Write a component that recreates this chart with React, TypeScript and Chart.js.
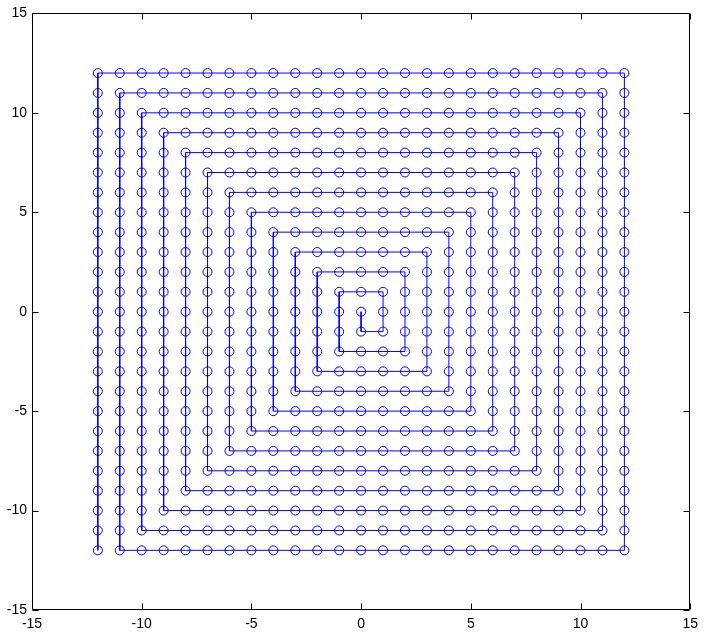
import React, { useEffect, useRef } from "react";
import { Chart, registerables } from "chart.js";

Chart.register(...registerables);

// Axis ticks
const xTickValues = [-15, -10, -5, 0, 5, 10, 15];
const yTickValues = [-15, -10, -5, 0, 5, 10, 15];

// Square spiral points (one per line segment of the path)
const spiralX = [
  0,
  // ring 0
  0,
  1,
  1, 1,
  0, -1,
  // ring 1
  -1, -1, -1,
  0, 1, 2,
  2, 2, 2, 2,
  1, 0, -1, -2,
  // ring 2
  -2, -2, -2, -2, -2,
  -1, 0, 1, 2, 3,
  3, 3, 3, 3, 3, 3,
  2, 1, 0, -1, -2, -3,
  // ring 3
  -3, -3, -3, -3, -3, -3, -3,
  -2, -1, 0, 1, 2, 3, 4,
  4, 4, 4, 4, 4, 4, 4, 4,
  3, 2, 1, 0, -1, -2, -3, -4,
  // ring 4
  -4, -4, -4, -4, -4, -4, -4, -4, -4,
  -3, -2, -1, 0, 1, 2, 3, 4, 5,
  5, 5, 5, 5, 5, 5, 5, 5, 5, 5,
  4, 3, 2, 1, 0, -1, -2, -3, -4, -5,
  // ring 5
  -5, -5, -5, -5, -5, -5, -5, -5, -5, -5, -5,
  -4, -3, -2, -1, 0, 1, 2, 3, 4, 5, 6,
  6, 6, 6, 6, 6, 6, 6, 6, 6, 6, 6, 6,
  5, 4, 3, 2, 1, 0, -1, -2, -3, -4, -5, -6,
  // ring 6
  -6, -6, -6, -6, -6, -6, -6, -6, -6, -6, -6, -6, -6,
  -5, -4, -3, -2, -1, 0, 1, 2, 3, 4, 5, 6, 7,
  7, 7, 7, 7, 7, 7, 7, 7, 7, 7, 7, 7, 7, 7,
  6, 5, 4, 3, 2, 1, 0, -1, -2, -3, -4, -5, -6, -7,
  // ring 7
  -7, -7, -7, -7, -7, -7, -7, -7, -7, -7, -7, -7, -7, -7, -7,
  -6, -5, -4, -3, -2, -1, 0, 1, 2, 3, 4, 5, 6, 7, 8,
  8, 8, 8, 8, 8, 8, 8, 8, 8, 8, 8, 8, 8, 8, 8, 8,
  7, 6, 5, 4, 3, 2, 1, 0, -1, -2, -3, -4, -5, -6, -7, -8,
  // ring 8
  -8, -8, -8, -8, -8, -8, -8, -8, -8, -8, -8, -8, -8, -8, -8, -8, -8,
  -7, -6, -5, -4, -3, -2, -1, 0, 1, 2, 3, 4, 5, 6, 7, 8, 9,
  9, 9, 9, 9, 9, 9, 9, 9, 9, 9, 9, 9, 9, 9, 9, 9, 9, 9,
  8, 7, 6, 5, 4, 3, 2, 1, 0, -1, -2, -3, -4, -5, -6, -7, -8, -9,
  // ring 9
  -9, -9, -9, -9, -9, -9, -9, -9, -9, -9, -9, -9, -9, -9, -9, -9, -9, -9, -9,
  -8, -7, -6, -5, -4, -3, -2, -1, 0, 1, 2, 3, 4, 5, 6, 7, 8, 9, 10,
  10, 10, 10, 10, 10, 10, 10, 10, 10, 10, 10, 10, 10, 10, 10, 10, 10, 10, 10, 10,
  9, 8, 7, 6, 5, 4, 3, 2, 1, 0, -1, -2, -3, -4, -5, -6, -7, -8, -9, -10,
  // ring 10
  -10, -10, -10, -10, -10, -10, -10, -10, -10, -10, -10, -10, -10, -10, -10, -10, -10, -10, -10, -10, -10,
  -9, -8, -7, -6, -5, -4, -3, -2, -1, 0, 1, 2, 3, 4, 5, 6, 7, 8, 9, 10, 11,
  11, 11, 11, 11, 11, 11, 11, 11, 11, 11, 11, 11, 11, 11, 11, 11, 11, 11, 11, 11, 11, 11,
  10, 9, 8, 7, 6, 5, 4, 3, 2, 1, 0, -1, -2, -3, -4, -5, -6, -7, -8, -9, -10, -11,
  // ring 11
  -11, -11, -11, -11, -11, -11, -11, -11, -11, -11, -11, -11, -11, -11, -11, -11, -11, -11, -11, -11, -11, -11, -11,
  -10, -9, -8, -7, -6, -5, -4, -3, -2, -1, 0, 1, 2, 3, 4, 5, 6, 7, 8, 9, 10, 11, 12,
  12, 12, 12, 12, 12, 12, 12, 12, 12, 12, 12, 12, 12, 12, 12, 12, 12, 12, 12, 12, 12, 12, 12, 12,
  11, 10, 9, 8, 7, 6, 5, 4, 3, 2, 1, 0, -1, -2, -3, -4, -5, -6, -7, -8, -9, -10, -11, -12,
  // last run down the left side
  -12, -12, -12, -12, -12, -12, -12, -12, -12, -12, -12, -12, -12, -12, -12, -12, -12, -12, -12, -12, -12, -12, -12, -12,
];

const spiralY = [
  0,
  // ring 0
  -1,
  -1,
  0, 1,
  1, 1,
  // ring 1
  0, -1, -2,
  -2, -2, -2,
  -1, 0, 1, 2,
  2, 2, 2, 2,
  // ring 2
  1, 0, -1, -2, -3,
  -3, -3, -3, -3, -3,
  -2, -1, 0, 1, 2, 3,
  3, 3, 3, 3, 3, 3,
  // ring 3
  2, 1, 0, -1, -2, -3, -4,
  -4, -4, -4, -4, -4, -4, -4,
  -3, -2, -1, 0, 1, 2, 3, 4,
  4, 4, 4, 4, 4, 4, 4, 4,
  // ring 4
  3, 2, 1, 0, -1, -2, -3, -4, -5,
  -5, -5, -5, -5, -5, -5, -5, -5, -5,
  -4, -3, -2, -1, 0, 1, 2, 3, 4, 5,
  5, 5, 5, 5, 5, 5, 5, 5, 5, 5,
  // ring 5
  4, 3, 2, 1, 0, -1, -2, -3, -4, -5, -6,
  -6, -6, -6, -6, -6, -6, -6, -6, -6, -6, -6,
  -5, -4, -3, -2, -1, 0, 1, 2, 3, 4, 5, 6,
  6, 6, 6, 6, 6, 6, 6, 6, 6, 6, 6, 6,
  // ring 6
  5, 4, 3, 2, 1, 0, -1, -2, -3, -4, -5, -6, -7,
  -7, -7, -7, -7, -7, -7, -7, -7, -7, -7, -7, -7, -7,
  -6, -5, -4, -3, -2, -1, 0, 1, 2, 3, 4, 5, 6, 7,
  7, 7, 7, 7, 7, 7, 7, 7, 7, 7, 7, 7, 7, 7,
  // ring 7
  6, 5, 4, 3, 2, 1, 0, -1, -2, -3, -4, -5, -6, -7, -8,
  -8, -8, -8, -8, -8, -8, -8, -8, -8, -8, -8, -8, -8, -8, -8,
  -7, -6, -5, -4, -3, -2, -1, 0, 1, 2, 3, 4, 5, 6, 7, 8,
  8, 8, 8, 8, 8, 8, 8, 8, 8, 8, 8, 8, 8, 8, 8, 8,
  // ring 8
  7, 6, 5, 4, 3, 2, 1, 0, -1, -2, -3, -4, -5, -6, -7, -8, -9,
  -9, -9, -9, -9, -9, -9, -9, -9, -9, -9, -9, -9, -9, -9, -9, -9, -9,
  -8, -7, -6, -5, -4, -3, -2, -1, 0, 1, 2, 3, 4, 5, 6, 7, 8, 9,
  9, 9, 9, 9, 9, 9, 9, 9, 9, 9, 9, 9, 9, 9, 9, 9, 9, 9,
  // ring 9
  8, 7, 6, 5, 4, 3, 2, 1, 0, -1, -2, -3, -4, -5, -6, -7, -8, -9, -10,
  -10, -10, -10, -10, -10, -10, -10, -10, -10, -10, -10, -10, -10, -10, -10, -10, -10, -10, -10,
  -9, -8, -7, -6, -5, -4, -3, -2, -1, 0, 1, 2, 3, 4, 5, 6, 7, 8, 9, 10,
  10, 10, 10, 10, 10, 10, 10, 10, 10, 10, 10, 10, 10, 10, 10, 10, 10, 10, 10, 10,
  // ring 10
  9, 8, 7, 6, 5, 4, 3, 2, 1, 0, -1, -2, -3, -4, -5, -6, -7, -8, -9, -10, -11,
  -11, -11, -11, -11, -11, -11, -11, -11, -11, -11, -11, -11, -11, -11, -11, -11, -11, -11, -11, -11, -11,
  -10, -9, -8, -7, -6, -5, -4, -3, -2, -1, 0, 1, 2, 3, 4, 5, 6, 7, 8, 9, 10, 11,
  11, 11, 11, 11, 11, 11, 11, 11, 11, 11, 11, 11, 11, 11, 11, 11, 11, 11, 11, 11, 11, 11,
  // ring 11
  10, 9, 8, 7, 6, 5, 4, 3, 2, 1, 0, -1, -2, -3, -4, -5, -6, -7, -8, -9, -10, -11, -12,
  -12, -12, -12, -12, -12, -12, -12, -12, -12, -12, -12, -12, -12, -12, -12, -12, -12, -12, -12, -12, -12, -12, -12,
  -11, -10, -9, -8, -7, -6, -5, -4, -3, -2, -1, 0, 1, 2, 3, 4, 5, 6, 7, 8, 9, 10, 11, 12,
  12, 12, 12, 12, 12, 12, 12, 12, 12, 12, 12, 12, 12, 12, 12, 12, 12, 12, 12, 12, 12, 12, 12, 12,
  // last run down the left side
  11, 10, 9, 8, 7, 6, 5, 4, 3, 2, 1, 0, -1, -2, -3, -4, -5, -6, -7, -8, -9, -10, -11, -12,
];

const FONT = "'Liberation Sans', Arial, Helvetica, sans-serif";
const TICK_LEN = 6;

const framePlugin = {
  id: "matlabFrame",
  afterDatasetsDraw(chart: any) {
    const { ctx, chartArea, scales } = chart;
    const L = Math.round(chartArea.left) + 0.5;
    const R = Math.round(chartArea.right) - 0.5;
    const T = Math.round(chartArea.top) + 0.5;
    const B = Math.round(chartArea.bottom) - 0.5;
    ctx.save();
    ctx.strokeStyle = "#000000";
    ctx.lineWidth = 1;
    ctx.beginPath();
    ctx.rect(L, T, R - L, B - T);
    ctx.stroke();
    ctx.beginPath();
    for (const v of xTickValues) {
      const px = Math.round(scales.x.getPixelForValue(v)) + 0.5;
      ctx.moveTo(px, B);
      ctx.lineTo(px, B - TICK_LEN);
      ctx.moveTo(px, T);
      ctx.lineTo(px, T + TICK_LEN);
    }
    for (const v of yTickValues) {
      const py = Math.round(scales.y.getPixelForValue(v)) + 0.5;
      ctx.moveTo(L, py);
      ctx.lineTo(L + TICK_LEN, py);
      ctx.moveTo(R, py);
      ctx.lineTo(R - TICK_LEN, py);
    }
    ctx.stroke();
    ctx.restore();
  },
};

export default function App() {
  const canvasRef = useRef<HTMLCanvasElement | null>(null);

  useEffect(() => {
    document.body.style.margin = "0";
    const canvas = canvasRef.current;
    if (!canvas) return;
    const points = spiralX.map((x, i) => ({ x, y: spiralY[i] }));
    const chart = new Chart(canvas, {
      type: "scatter",
      data: {
        datasets: [
          {
            data: points,
            showLine: true,
            borderColor: "#0000ff",
            borderWidth: 1,
            pointStyle: "circle",
            pointRadius: 4.5,
            pointBorderColor: "#0000ff",
            pointBackgroundColor: "rgba(0,0,0,0)",
            pointBorderWidth: 1,
            tension: 0,
          },
        ],
      },
      options: {
        animation: false,
        responsive: false,
        events: [],
        layout: { padding: { top: 12, right: 8, left: 0, bottom: 0 } },
        plugins: {
          legend: { display: false },
          tooltip: { enabled: false },
        },
        scales: {
          x: {
            type: "linear",
            min: -15,
            max: 15,
            afterBuildTicks: (scale: any) => {
              scale.ticks = xTickValues.map((v) => ({ value: v }));
            },
            afterFit: (scale: any) => {
              scale.height = 24;
            },
            grid: { display: false, drawTicks: false },
            border: { display: false },
            ticks: {
              color: "#000000",
              padding: 6,
              maxRotation: 0,
              font: { family: FONT, size: 14 },
            },
          },
          y: {
            type: "linear",
            min: -15,
            max: 15,
            afterBuildTicks: (scale: any) => {
              scale.ticks = yTickValues.map((v) => ({ value: v }));
            },
            afterFit: (scale: any) => {
              scale.width = 32;
            },
            grid: { display: false, drawTicks: false },
            border: { display: false },
            ticks: {
              color: "#000000",
              padding: 5,
              font: { family: FONT, size: 14 },
            },
          },
        },
      },
      plugins: [framePlugin],
    });
    return () => chart.destroy();
  }, []);

  return (
    <div style={{ position: "absolute", left: 0, top: 0, width: 704, height: 634, background: "#ffffff" }}>
      <canvas ref={canvasRef} width={704} height={634} style={{ display: "block", width: 704, height: 634 }} />
    </div>
  );
}
